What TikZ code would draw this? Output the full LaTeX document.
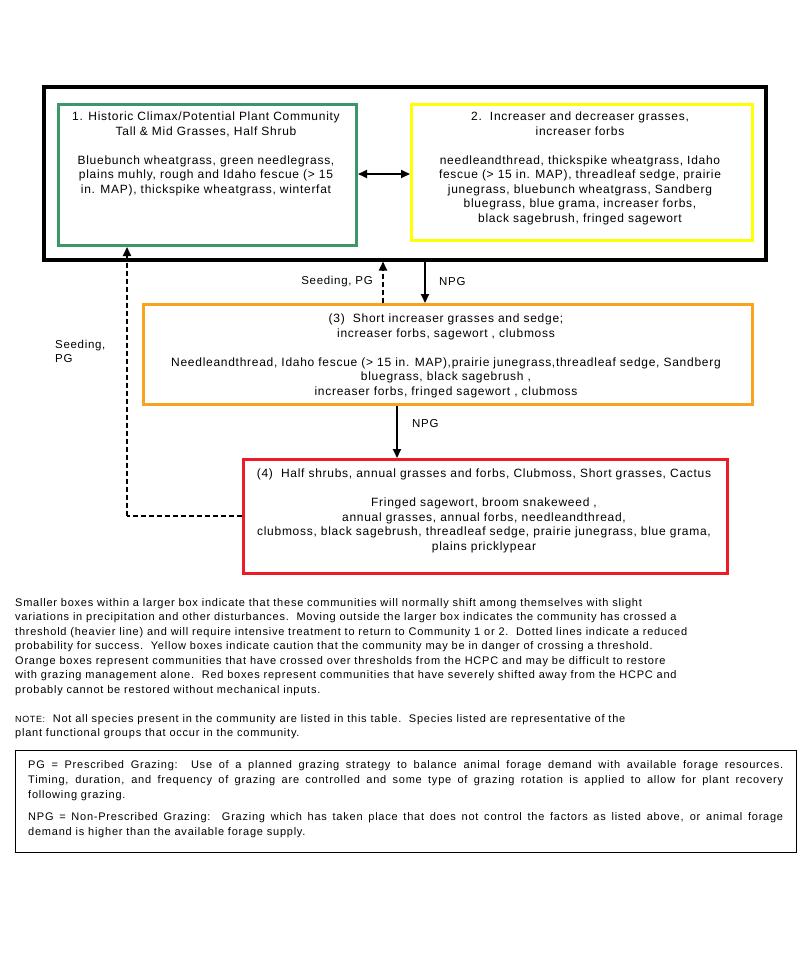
\documentclass[tikz,border=0pt]{standalone}
\usepackage{fontspec}
\setmainfont{Liberation Sans}
\newfontfamily\boxfnt[LetterSpace=6]{Liberation Sans}
\newfontfamily\parafnt[LetterSpace=7]{Liberation Sans}
\usetikzlibrary{arrows.meta}
\definecolor{cgreen}{RGB}{60,150,105}
\definecolor{cyellow}{RGB}{255,255,0}
\definecolor{corange}{RGB}{247,163,30}
\definecolor{cred}{RGB}{237,28,36}
\begin{document}
\begin{tikzpicture}[x=1pt,y=-1pt,
  frame/.style={draw, anchor=north west, inner sep=0pt, fill=none},
  cbox/.style={frame, line width=3pt},
  boxtxt/.style={anchor=north, align=center, inner sep=0pt, font=\boxfnt\fontsize{12}{14.5}\selectfont},
  lbl/.style={inner sep=0pt, font=\boxfnt\fontsize{11.5}{14}\selectfont},
  arr/.style={line width=2pt, -{Triangle[length=9pt,width=8pt]}},
  darr/.style={line width=2pt, dash pattern=on 5pt off 3pt, -{Triangle[length=9pt,width=8pt]}},
  dline/.style={line width=2pt, dash pattern=on 5pt off 3pt}]
\useasboundingbox[fill=white] (0,0) rectangle (800,961);

% boxes
\node[frame, line width=3.5pt, minimum width=722pt, minimum height=173pt] (outer) at (42,85) {};
\node[cbox, draw=cgreen, minimum width=298pt, minimum height=141pt] (g) at (57,103) {};
\node[cbox, draw=cyellow, minimum width=341pt, minimum height=136pt] (y) at (410,103) {};
\node[cbox, draw=corange, minimum width=609pt, minimum height=100pt] (o) at (142,303) {};
\node[cbox, draw=cred, minimum width=484pt, minimum height=114pt] (r) at (242,458) {};

% box texts
\node[boxtxt] (gt) at (206,112) {1. Historic Climax/Potential Plant Community\\
Tall \& Mid Grasses, Half Shrub\\[14.5pt]
Bluebunch wheatgrass, green needlegrass,\\
plains muhly, rough and Idaho fescue (> 15\\
in. MAP), thickspike wheatgrass, winterfat};

\node[boxtxt] (yt) at (580,112) {2.\ \ Increaser and decreaser grasses,\\
increaser forbs\\[14.5pt]
needleandthread, thickspike wheatgrass, Idaho\\
fescue (> 15 in. MAP), threadleaf sedge, prairie\\
junegrass, bluebunch wheatgrass, Sandberg\\
bluegrass, blue grama, increaser forbs,\\
black sagebrush, fringed sagewort};

\node[boxtxt] (ot) at (446,314) {(3)\ \ Short increaser grasses and sedge;\\
increaser forbs, sagewort , clubmoss\\[14.5pt]
Needleandthread, Idaho fescue (> 15 in. MAP),prairie junegrass,threadleaf sedge, Sandberg\\
bluegrass, black sagebrush ,\\
increaser forbs, fringed sagewort , clubmoss};

\node[boxtxt] (rt) at (484,469) {(4)\ \ Half shrubs, annual grasses and forbs, Clubmoss, Short grasses, Cactus\\[14.5pt]
Fringed sagewort, broom snakeweed ,\\
annual grasses, annual forbs, needleandthread,\\
clubmoss, black sagebrush, threadleaf sedge, prairie junegrass, blue grama,\\
plains pricklypear};

% connectors
\draw[line width=2pt, {Triangle[length=9pt,width=8pt]}-{Triangle[length=9pt,width=8pt]}] (g.east |- 0,174) -- (y.west |- 0,174);
\coordinate (xs) at (383,0);
\coordinate (xn) at (425,0);
\coordinate (xm) at (397,0);
\coordinate (corner) at (127,516);
\draw[darr] (xs |- o.north) -- (xs |- outer.south);
\draw[arr] (xn |- outer.south) -- (xn |- o.north);
\draw[arr] (xm |- o.south) -- (xm |- r.north);
\draw[dline] (corner -| r.west) -- (corner);
\draw[darr] (corner) -- (corner |- g.south);

% labels
\node[lbl, anchor=east] (l1) at (373,282) {Seeding, PG};
\node[lbl, anchor=west] (l2) at (439,282) {NPG};
\node[lbl, anchor=west] (l3) at (412,424) {NPG};
\node[lbl, anchor=north west, align=left] (l4) at (55,340) {Seeding,\\PG};

% paragraph
\node[anchor=north west, align=left, inner sep=0pt, font=\parafnt\fontsize{11}{14.5}\selectfont] (para) at (15,598) {Smaller boxes within a larger box indicate that these communities will normally shift among themselves with slight\\
variations in precipitation and other disturbances.\ \ Moving outside the larger box indicates the community has crossed a\\
threshold (heavier line) and will require intensive treatment to return to Community 1 or 2.\ \ Dotted lines indicate a reduced\\
probability for success.\ \ Yellow boxes indicate caution that the community may be in danger of crossing a threshold.\\
Orange boxes represent communities that have crossed over thresholds from the HCPC and may be difficult to restore\\
with grazing management alone.\ \ Red boxes represent communities that have severely shifted away from the HCPC and\\
probably cannot be restored without mechanical inputs.};

\node[anchor=north west, align=left, inner sep=0pt, font=\parafnt\fontsize{11}{14.5}\selectfont] (note) at (15,714) {{\fontsize{9}{14.5}\selectfont NOTE:}\ \ Not all species present in the community are listed in this table.\ \ Species listed are representative of the\\
plant functional groups that occur in the community.};

% legend box
\node[frame, line width=1pt, minimum width=781pt, minimum height=102pt] (leg) at (15,750) {};
\node[anchor=north west, align=left, inner sep=0pt, font=\parafnt\fontsize{11}{15}\selectfont] (legt) at (28,760) {\makebox[755pt][s]{PG = Prescribed Grazing:\ \ Use of a planned grazing strategy to balance animal forage demand with available forage resources.}\\
\makebox[755pt][s]{Timing, duration, and frequency of grazing are controlled and some type of grazing rotation is applied to allow for plant recovery}\\
following grazing.\\[7pt]
\makebox[755pt][s]{NPG = Non-Prescribed Grazing:\ \ Grazing which has taken place that does not control the factors as listed above, or animal forage}\\
demand is higher than the available forage supply.};
\end{tikzpicture}
\end{document}
